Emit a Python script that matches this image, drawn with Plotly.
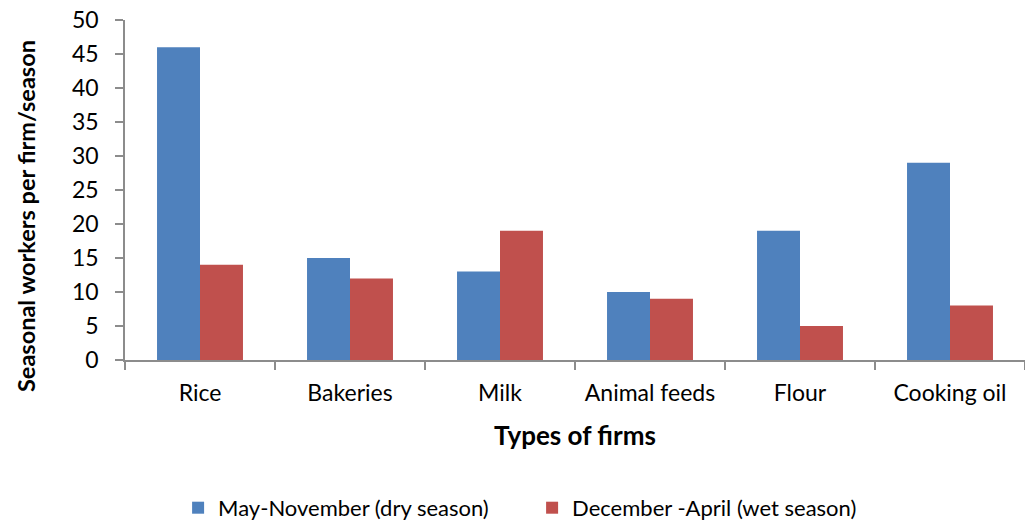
import plotly.graph_objects as go

# Seasonal workers per firm, by type of firm and season
firm_types = ["Rice", "Bakeries", "Milk", "Animal feeds", "Flour", "Cooking oil"]
dry_season = [46, 15, 13, 10, 19, 29]
wet_season = [14, 12, 19, 9, 5, 8]

dry_name = "May-November (dry season)"
wet_name = "December -April (wet season)"

FONT = "Lato, 'Open Sans', sans-serif"
AXIS_GREY = "#8c8c8c"

fig = go.Figure()
fig.add_trace(go.Bar(x=firm_types, y=dry_season, name=dry_name,
                     marker=dict(color="#4f81bd", line=dict(width=0))))
fig.add_trace(go.Bar(x=firm_types, y=wet_season, name=wet_name,
                     marker=dict(color="#c0504d", line=dict(width=0))))

fig.update_layout(
    width=1025, height=523,
    margin=dict(l=125, r=0, t=20, b=163, autoexpand=False),
    paper_bgcolor="white", plot_bgcolor="white",
    barmode="group", bargap=0.427, bargroupgap=0,
    font=dict(family=FONT, color="black"),
    showlegend=True,
    legend=dict(orientation="h", x=0.059, xanchor="left", y=-0.435, yanchor="middle",
                font=dict(size=22, family=FONT), traceorder="normal",
                itemwidth=30, entrywidth=309),
)

fig.update_xaxes(
    type="category", tickson="boundaries",
    showline=True, linecolor=AXIS_GREY, linewidth=1.5,
    ticks="outside", ticklen=8, tickcolor=AXIS_GREY, tickwidth=1.5,
    tickfont=dict(size=23), ticklabelstandoff=12,
    showgrid=False, zeroline=False,
    title=dict(text="<b>Types of firms</b>", font=dict(size=26), standoff=21),
)
fig.update_yaxes(
    range=[0, 50], dtick=5,
    showline=True, linecolor=AXIS_GREY, linewidth=1.5,
    ticks="outside", ticklen=8, tickcolor=AXIS_GREY, tickwidth=1.5,
    tickfont=dict(size=23), ticklabelstandoff=12,
    showgrid=False, zeroline=False,
)

# Vertical axis title, placed a little below the plot's mid-height
fig.add_annotation(
    text="<b>Seasonal workers per firm/season</b>",
    xref="paper", yref="paper", x=-0.11, y=0.4235,
    xanchor="center", yanchor="middle", textangle=-90, showarrow=False,
    font=dict(size=23.5, family=FONT, color="black"),
)

fig.write_html("out.html")
